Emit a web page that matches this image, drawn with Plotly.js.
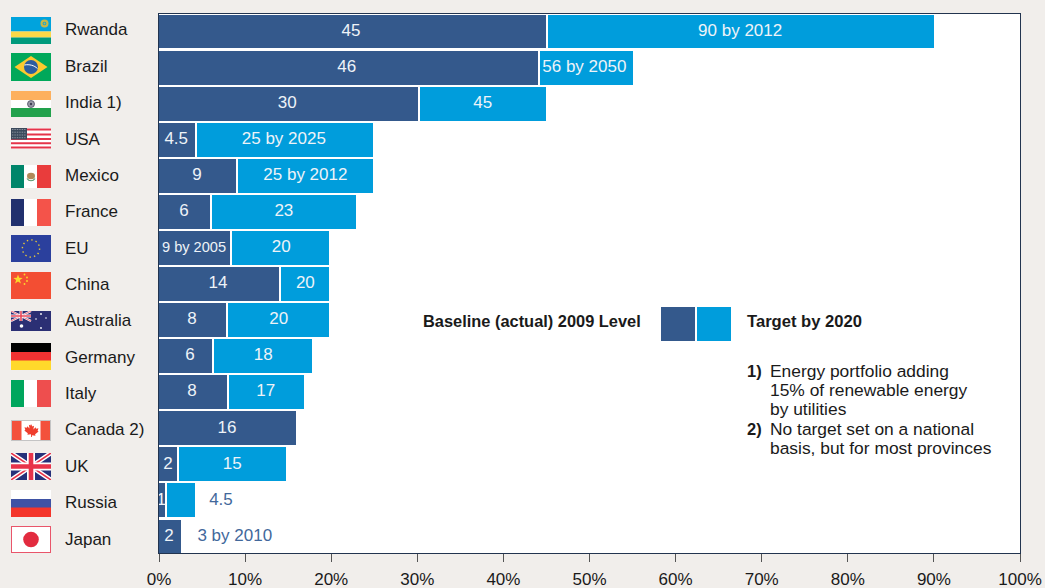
<!DOCTYPE html>
<html><head><meta charset="utf-8">
<script src="https://cdn.plot.ly/plotly-3.0.0.min.js"></script>
<style>html,body{margin:0;padding:0;background:#f1eeeb}</style></head>
<body><div id="chart" style="width:1045px;height:588px"></div>
<script>
const countries=["Rwanda","Brazil","India 1)","USA","Mexico","France","EU","China","Australia","Germany","Italy","Canada 2)","UK","Russia","Japan"];
const baseline=[44.95,44,30.1,4.18,8.94,5.92,8.25,13.94,7.8,6.15,7.9,15.9,2.1,0.7,2.55];
const targetEnd=[90,55.05,44.95,24.85,24.85,22.9,19.74,19.74,19.74,17.77,16.84,15.9,14.75,4.18,2.55];
const baseLabels=["45","46","30","4.5","9","6","9 by 2005","14","8","6","8","16","2","1","2"];
const targetLabels=["90 by 2012","56 by 2050","45","25 by 2025","25 by 2012","23","20","20","20","18","17","","15","4.5","3 by 2010"];
const baseLabelAt=[22.3,21.8,14.9,2.0,4.4,2.9,4.07,6.85,3.83,3.6,3.83,7.9,1.05,0.25,1.16];
const targetLabelAt=[67.5,49.4,37.6,14.5,17,14.5,14.2,17,13.9,12.1,12.4,null,8.5,7.2,8.8];
const tickValues=[0,10,20,30,40,50,60,70,80,90,100];
const notes=[["1)","Energy portfolio adding"],["","15% of renewable energy"],["","by utilities"],["2)","No target set on a national"],["","basis, but for most provinces"]];
const legendBase="Baseline (actual) 2009 Level", legendTarget="Target by 2020";

const W=1045,H=588,L=159,R=1020,T=14,B=553;
const px=x=>(x-L)/(R-L), py=y=>(B-y)/(B-T);
const NAVY="#34598c",CYAN="#009ddc",OUT="#42689b",INK="#1a1a1a",BG="#f1eeeb";
const GAP=0.27;

const flagBody={
 Rwanda:`<rect width="40" height="14.5" fill="#00a3dd"/><rect y="14.5" width="40" height="6" fill="#fdd848"/><rect y="20.5" width="40" height="6.5" fill="#009a7c"/><circle cx="33.5" cy="6.5" r="4" fill="#c5b74a"/><circle cx="33.5" cy="6.5" r="1.8" fill="#00a3dd"/><circle cx="33.5" cy="6.5" r="1" fill="#c5b74a"/>`,
 Brazil:`<rect width="40" height="28" fill="#00a85a"/><path d="M3.5 14L20 3 36.5 14 20 25z" fill="#fcc92e"/><circle cx="20" cy="14" r="7" fill="#2c5da0"/><path d="M13.4 12c5 -1 10 .5 13 3.5" stroke="#fff" stroke-width="1" fill="none"/>`,
 India:`<rect width="40" height="9" fill="#fdb05e"/><rect y="9" width="40" height="8" fill="#fff"/><rect y="17" width="40" height="9" fill="#22a14c"/><circle cx="20" cy="13" r="3.5" fill="#9a9aa8" stroke="#3d3d55" stroke-width=".7"/><circle cx="20" cy="13" r="1.2" fill="#3d3d55"/>`,
 USA:`<rect width="40" height="21" fill="#fff"/><path d="M0 1.5h40M0 6.5h40M0 11h40M0 15.2h40M0 19.5h40" stroke="#e5344a" stroke-width="1.9"/><rect width="16" height="11.5" fill="#3c4a5c"/><path d="M1 1.5h14M1 4.2h14M1 7h14M1 9.7h14" stroke="#c8ccd2" stroke-width=".7" stroke-dasharray=".8 .9"/>`,
 Mexico:`<rect width="14" height="23" fill="#00856a"/><rect x="13" width="14" height="23" fill="#fff"/><rect x="26" width="14" height="23" fill="#e93c3c"/><ellipse cx="20" cy="11" rx="4" ry="3.2" fill="#b08a5a"/><path d="M16 13.5c2 3 6 3 8 0" stroke="#5a9a70" stroke-width="1.2" fill="none"/>`,
 France:`<rect width="13.5" height="27" fill="#21306e"/><rect x="13" width="13.5" height="27" fill="#fff"/><rect x="26" width="14" height="27" fill="#f4534a"/>`,
 EU:`<rect width="40" height="27" fill="#2b409d"/><circle cx="20" cy="13.5" r="8.6" fill="none" stroke="#e8c838" stroke-width="1.4" stroke-dasharray="1.4 3.1"/>`,
 China:`<rect width="40" height="27" fill="#f34e33"/><path d="M7 2.5l1.2 3.3 3.5.1-2.8 2.1 1 3.4L7 9.5l-2.9 1.9 1-3.4-2.8-2.1 3.5-.1z" fill="#fcd92a"/><circle cx="13.5" cy="2.5" r=".9" fill="#fcd92a"/><circle cx="16" cy="5.5" r=".9" fill="#fcd92a"/><circle cx="16" cy="9" r=".9" fill="#fcd92a"/><circle cx="13.5" cy="12" r=".9" fill="#fcd92a"/>`,
 Australia:`<rect width="40" height="20" fill="#2b2f74"/><rect width="20" height="10" fill="#2b2f74"/><path d="M0 0L20 10M20 0L0 10" stroke="#fff" stroke-width="2"/><path d="M0 0L20 10M20 0L0 10" stroke="#e8485a" stroke-width=".8"/><path d="M10 0v10M0 5h20" stroke="#fff" stroke-width="3"/><path d="M10 0v10M0 5h20" stroke="#e8485a" stroke-width="1.6"/><circle cx="10.5" cy="15" r="1.8" fill="#fff"/><circle cx="30" cy="3" r=".9" fill="#fff"/><circle cx="25" cy="8" r=".8" fill="#fff"/><circle cx="35" cy="7" r=".8" fill="#fff"/><circle cx="30" cy="17" r=".9" fill="#fff"/>`,
 Germany:`<rect width="40" height="9.5" fill="#000"/><rect y="9" width="40" height="9" fill="#f13232"/><rect y="17.5" width="40" height="9.5" fill="#ffd92b"/>`,
 Italy:`<rect width="13" height="27" fill="#00a65d"/><rect x="13" width="13" height="27" fill="#fff"/><rect x="26" width="14" height="27" fill="#ee4e4e"/>`,
 Canada:`<rect width="40" height="21" fill="#c4c4c4"/><rect x="1" y="1" width="38" height="19" fill="#f3513c"/><rect x="10.5" y="1" width="19" height="19" fill="#fff"/><path d="M20 4l1.4 2.6 1.6-.8-.6 3.6 2.2-2.2.5 1.5 2.3-.4-.8 2.6 1 .6-3.5 2.8.4 1.4-3.6-.5V17h-.9v-2.8l-3.6.5.4-1.4-3.5-2.8 1-.6-.8-2.6 2.3.4.5-1.5 2.2 2.2-.6-3.6 1.6.8z" fill="#ef3e2e"/>`,
 UK:`<rect width="40" height="27" fill="#26317a"/><path d="M0 0L40 27M40 0L0 27" stroke="#fff" stroke-width="4.5"/><path d="M0 0L40 27M40 0L0 27" stroke="#e8344a" stroke-width="1.6"/><path d="M20 0v27M0 13.5h40" stroke="#fff" stroke-width="8"/><path d="M20 0v27M0 13.5h40" stroke="#e8344a" stroke-width="4.6"/>`,
 Russia:`<rect width="40" height="9.5" fill="#fff"/><rect y="9" width="40" height="9" fill="#3e52a5"/><rect y="17.5" width="40" height="9.5" fill="#f4352a"/>`,
 Japan:`<rect x=".5" y=".5" width="39" height="26" fill="#fff" stroke="#e9556a" stroke-width="1"/><circle cx="20" cy="13.5" r="7.8" fill="#e22b3f"/>`
};
const flagBox={Rwanda:[17,27],Brazil:[53,28],India:[91,26],USA:[128,21],Mexico:[165,23],France:[199,27],EU:[235,27],China:[272,27],Australia:[311,20],Germany:[343,27],Italy:[380,27],Canada:[420,21],UK:[453,27],Russia:[490,27],Japan:[526,27]};
const images=Object.keys(flagBox).map(k=>{
 const [top,h]=flagBox[k];
 const svg=`<svg xmlns="http://www.w3.org/2000/svg" width="40" height="${h}" viewBox="0 0 40 ${h}">${flagBody[k]}</svg>`;
 return {source:"data:image/svg+xml;charset=utf-8,"+encodeURIComponent(svg),xref:"paper",yref:"paper",x:px(11),y:py(top),sizex:40/(R-L),sizey:h/(B-T),xanchor:"left",yanchor:"top",sizing:"stretch",layer:"above"};
});

const idx=countries.map((_,i)=>i);
const targetStart=baseline.map(v=>v+GAP);
const targetSeg=targetEnd.map((v,i)=>Math.max(0,v-targetStart[i]));
const traces=[
 {type:"bar",orientation:"h",y:idx,x:baseline,width:0.94,marker:{color:NAVY},hoverinfo:"skip",showlegend:false},
 {type:"bar",orientation:"h",y:idx,x:targetSeg,base:targetStart,width:0.94,marker:{color:CYAN},hoverinfo:"skip",showlegend:false},
 {type:"scatter",mode:"text",cliponaxis:false,y:idx,x:baseLabelAt,text:baseLabels,
  textfont:{family:"Liberation Sans",color:"#eef3f8",size:baseLabels.map(t=>t.length>5?14.6:17)},textposition:"middle center",hoverinfo:"skip",showlegend:false},
 {type:"scatter",mode:"text",cliponaxis:false,y:idx,x:targetLabelAt,text:targetLabels,
  textfont:{family:"Liberation Sans",color:targetLabels.map((t,i)=>(i>=13)?OUT:"#eef3f8"),size:17},textposition:"middle center",hoverinfo:"skip",showlegend:false}
];

const ann=[];
countries.forEach((c,i)=>ann.push({xref:"paper",yref:"paper",x:px(63),y:py(30+36.36*i),text:c,showarrow:false,xanchor:"left",yanchor:"middle",align:"left",font:{family:"Liberation Sans",size:17,color:INK}}));
ann.push({xref:"paper",yref:"paper",x:px(421),y:py(321),text:`<b>${legendBase}</b>`,showarrow:false,xanchor:"left",yanchor:"middle",font:{family:"Liberation Sans",size:16.4,color:INK}});
ann.push({xref:"paper",yref:"paper",x:px(745),y:py(321),text:`<b>${legendTarget}</b>`,showarrow:false,xanchor:"left",yanchor:"middle",font:{family:"Liberation Sans",size:16.6,color:INK}});
const noteY=[371,390,409,429,448];
notes.forEach((n,i)=>{
 if(n[0])ann.push({xref:"paper",yref:"paper",x:px(745),y:py(noteY[i]),text:`<b>${n[0]}</b>`,showarrow:false,xanchor:"left",yanchor:"middle",font:{family:"Liberation Sans",size:16.5,color:INK}});
 ann.push({xref:"paper",yref:"paper",x:px(768),y:py(noteY[i]),text:n[1],showarrow:false,xanchor:"left",yanchor:"middle",font:{family:"Liberation Sans",size:17.4,color:INK}});
});

const layout={
 width:W,height:H,paper_bgcolor:BG,plot_bgcolor:"#fff",
 margin:{l:L,r:W-R,t:T,b:H-B,pad:0},
 barmode:"overlay",bargap:0,showlegend:false,
 xaxis:{range:[0,100],tickvals:tickValues,ticktext:tickValues.map(v=>v+"%"),ticks:"outside",ticklen:8,tickwidth:1,tickcolor:"#555",ticklabelstandoff:3,
   showgrid:false,zeroline:false,showline:true,linecolor:"#22344f",linewidth:1,mirror:true,
   tickfont:{family:"Liberation Sans",size:17,color:INK},fixedrange:true,automargin:false},
 yaxis:{type:"linear",range:[14.457,-0.485],showticklabels:false,ticks:"",showgrid:false,zeroline:false,showline:true,linecolor:"#22344f",linewidth:1,mirror:true,fixedrange:true,automargin:false},
 shapes:[
  {type:"rect",xref:"paper",yref:"paper",x0:px(661),x1:px(695),y0:py(341),y1:py(307),fillcolor:NAVY,line:{width:0}},
  {type:"rect",xref:"paper",yref:"paper",x0:px(697),x1:px(731),y0:py(341),y1:py(307),fillcolor:CYAN,line:{width:0}}
 ],
 annotations:ann,images:images
};
Plotly.newPlot("chart",traces,layout,{displayModeBar:false,staticPlot:true});
</script></body></html>
